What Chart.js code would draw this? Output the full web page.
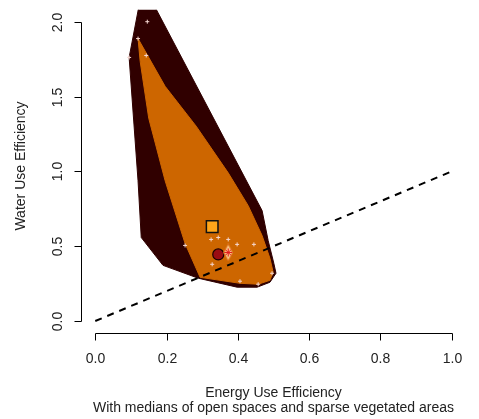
<!DOCTYPE html>
<html><head><meta charset="utf-8">
<script src="https://cdn.jsdelivr.net/npm/chart.js@4.4.0/dist/chart.umd.min.js"></script>
<style>html,body{margin:0;padding:0;background:#fff;}#wrap{width:479px;height:419px;}</style>
</head><body><div id="wrap"><canvas id="c" width="479" height="419"></canvas></div>
<script>
// ---- data ----
const xTicks = [0, 0.2, 0.4, 0.6, 0.8, 1.0];
const yTicks = [0, 0.5, 1.0, 1.5, 2.0];
const xTitle = 'Energy Use Efficiency';
const xSubtitle = 'With medians of open spaces and sparse vegetated areas';
const yTitle = 'Water Use Efficiency';

const outerHullX = [0.123, 0.165, 0.468, 0.485, 0.501, 0.507, 0.490, 0.454, 0.398, 0.289, 0.190, 0.129, 0.120, 0.095, 0.123];
const outerHullY = [2.11, 2.11, 0.738, 0.538, 0.385, 0.319, 0.259, 0.226, 0.226, 0.286, 0.372, 0.558, 0.937, 1.761, 2.11];

const innerHullX = [0.120, 0.196, 0.283, 0.373, 0.429, 0.468, 0.490, 0.499, 0.490, 0.457, 0.406, 0.294, 0.252, 0.196, 0.150, 0.126, 0.120];
const innerHullY = [1.887, 1.568, 1.302, 0.990, 0.771, 0.571, 0.419, 0.326, 0.272, 0.246, 0.252, 0.292, 0.518, 0.937, 1.355, 1.734, 1.887];

const obsX = [0.146, 0.120, 0.143, 0.095, 0.252, 0.325, 0.345, 0.373, 0.398, 0.445, 0.328, 0.406, 0.457, 0.496];
const obsY = [2.00, 1.887, 1.774, 1.761, 0.505, 0.545, 0.558, 0.545, 0.512, 0.512, 0.379, 0.266, 0.246, 0.319];

const refLineX = [0, 1];
const refLineY = [0, 1];

const medianOpenX = [0.328];   // square
const medianOpenY = [0.631];
const medianAllX = [0.345];    // dark red circle
const medianAllY = [0.445];
const medianSparseX = [0.373]; // light diamond
const medianSparseY = [0.458];

// ---- helpers ----
const pts = (xs, ys) => xs.map((x, i) => ({x, y: ys[i]}));
const FONT = '"Liberation Sans", Arial, sans-serif';
const FS = 14;

const diamond = document.createElement('canvas');
diamond.width = 10; diamond.height = 18;
(() => {
  const g = diamond.getContext('2d');
  g.beginPath();
  g.moveTo(5, 0.5); g.lineTo(9.5, 9); g.lineTo(5, 17.5); g.lineTo(0.5, 9); g.closePath();
  g.fillStyle = '#F7C68A'; g.fill();
  g.strokeStyle = '#E0721C'; g.lineWidth = 1; g.stroke();
})();

const rAxes = {
  id: 'rAxes',
  afterDraw(chart) {
    const ctx = chart.ctx, xs = chart.scales.x, ys = chart.scales.y, ca = chart.chartArea;
    ctx.save();
    ctx.strokeStyle = '#000'; ctx.fillStyle = '#222'; ctx.lineWidth = 1;
    ctx.font = FS + 'px ' + FONT;
    // x axis
    const yAx = Math.round(ca.bottom) + 0.5;
    const xp = xTicks.map(v => Math.round(xs.getPixelForValue(v)) + 0.5);
    ctx.beginPath();
    ctx.moveTo(xp[0], yAx); ctx.lineTo(xp[xp.length - 1], yAx);
    xp.forEach(p => { ctx.moveTo(p, yAx); ctx.lineTo(p, yAx + 7); });
    ctx.stroke();
    ctx.textAlign = 'center'; ctx.textBaseline = 'middle';
    xTicks.forEach((v, i) => ctx.fillText(v.toFixed(1), xp[i], yAx + 26));
    // y axis
    const xAx = Math.round(ca.left) + 0.5;
    const yp = yTicks.map(v => Math.round(ys.getPixelForValue(v)) + 0.5);
    ctx.beginPath();
    ctx.moveTo(xAx, yp[0]); ctx.lineTo(xAx, yp[yp.length - 1]);
    yp.forEach(p => { ctx.moveTo(xAx, p); ctx.lineTo(xAx - 7, p); });
    ctx.stroke();
    yTicks.forEach((v, i) => {
      ctx.save(); ctx.translate(xAx - 23, yp[i]); ctx.rotate(-Math.PI / 2);
      ctx.fillText(v.toFixed(1), 0, 0); ctx.restore();
    });
    // titles
    const cx = (ca.left + ca.right) / 2;
    ctx.fillText(xTitle, cx, 393);
    ctx.fillText(xSubtitle, cx, 408);
    ctx.save(); ctx.translate(21, 166); ctx.rotate(-Math.PI / 2);
    ctx.fillText(yTitle, 0, 0); ctx.restore();
    ctx.restore();
  }
};

new Chart(document.getElementById('c'), {
  type: 'scatter',
  data: {
    datasets: [
      { data: pts(medianSparseX, medianSparseY), pointStyle: 'star', pointRadius: 4, borderColor: '#E41A1C', borderWidth: 1, backgroundColor: '#E41A1C', order: 0 },
      { data: pts(medianSparseX, medianSparseY), pointStyle: diamond, pointRadius: 6, order: 1 },
      { data: pts(medianAllX, medianAllY), pointStyle: 'circle', pointRadius: 5.5, backgroundColor: '#9A0B12', borderColor: '#1a0000', borderWidth: 1.2, order: 2 },
      { data: pts(medianOpenX, medianOpenY), pointStyle: 'rect', pointRadius: 8.2, backgroundColor: '#FFA51A', borderColor: '#111', borderWidth: 1.5, order: 3 },
      { data: pts(obsX, obsY), pointStyle: 'cross', pointRadius: 2, borderColor: '#F6D8D2', borderWidth: 1, order: 4 },
      { data: pts(refLineX, refLineY), showLine: true, pointRadius: 0, borderColor: '#000', borderWidth: 2, borderDash: [7, 6], order: 5 },
      { data: pts(innerHullX, innerHullY), showLine: true, pointRadius: 0, borderColor: '#CD6600', backgroundColor: '#CD6600', borderWidth: 1, fill: 'shape', tension: 0, order: 6 },
      { data: pts(outerHullX, outerHullY), showLine: true, pointRadius: 0, borderColor: '#300000', backgroundColor: '#300000', borderWidth: 1, fill: 'shape', tension: 0, order: 7 }
    ]
  },
  options: {
    responsive: false, animation: false, devicePixelRatio: 1,
    layout: { padding: { left: 0, right: 13, top: 8, bottom: 0 } },
    plugins: { legend: { display: false }, tooltip: { enabled: false } },
    scales: {
      x: { type: 'linear', min: -0.04, max: 1.04, grid: { display: false }, border: { display: false },
           ticks: { display: false }, afterBuildTicks(s) { s.ticks = xTicks.map(v => ({value: v})); },
           afterFit(s) { s.height = 86; } },
      y: { type: 'linear', min: -0.08, max: 2.08, grid: { display: false }, border: { display: false },
           ticks: { display: false }, afterBuildTicks(s) { s.ticks = yTicks.map(v => ({value: v})); },
           afterFit(s) { s.width = 81; } }
    }
  },
  plugins: [rAxes]
});
</script></body></html>
